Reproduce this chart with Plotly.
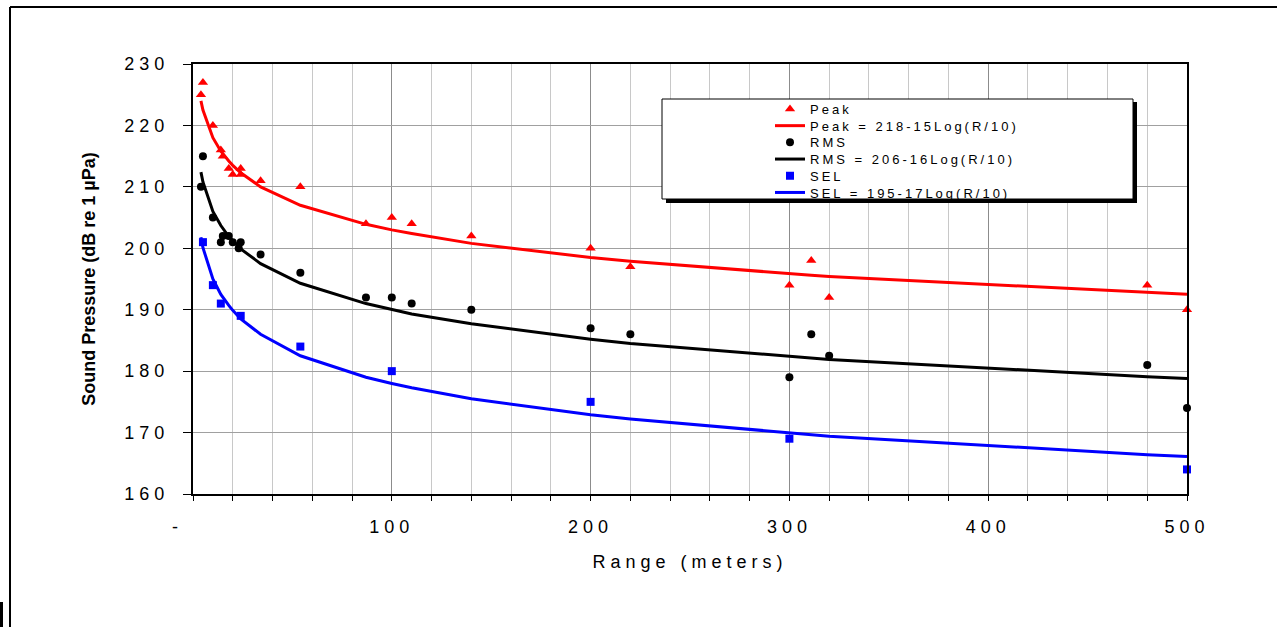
import plotly.graph_objects as go

# ---- data ----
peak_x = [4, 5, 10, 14, 15, 18, 20, 24, 24, 34, 54, 87, 100, 110, 140, 200, 220, 300, 311, 320, 480, 500]
peak_y = [225, 227, 220, 216, 215, 213, 212, 213, 212, 211, 210, 204, 205, 204, 202, 200, 197, 194, 198, 192, 194, 190]

rms_x = [4, 5, 10, 14, 15, 18, 20, 24, 23, 34, 54, 87, 100, 110, 140, 200, 220, 300, 311, 320, 480, 500]
rms_y = [210, 215, 205, 201, 202, 202, 201, 201, 200, 199, 196, 192, 192, 191, 190, 187, 186, 179, 186, 182.5, 181, 174]

sel_x = [5, 10, 14, 24, 54, 100, 200, 300, 500]
sel_y = [201, 194, 191, 189, 184, 180, 175, 169, 164]

fit_x = [4, 5, 10, 14, 18, 20, 24, 34, 54, 87, 100, 110, 140, 200, 220, 300, 311, 320, 480, 500]
peak_fit = [224.0, 222.5, 218.0, 215.8, 214.2, 213.5, 212.3, 210.0, 207.0, 203.9, 203.0, 202.4, 200.8,
            198.5, 197.9, 195.8, 195.6, 195.4, 192.8, 192.5]
rms_fit = [212.4, 210.8, 206.0, 203.7, 201.9, 201.2, 199.9, 197.5, 194.3, 191.0, 190.0, 189.3, 187.7,
           185.2, 184.5, 182.4, 182.1, 181.9, 179.1, 178.8]
sel_fit = [201.8, 200.1, 195.0, 192.5, 190.7, 189.9, 188.5, 186.0, 182.5, 179.0, 178.0, 177.3, 175.5,
           172.9, 172.2, 169.9, 169.6, 169.4, 166.4, 166.1]

x_tickvals = [0, 100, 200, 300, 400, 500]
x_ticktext = ["", "100", "200", "300", "400", "500"]
y_tickvals = [160, 170, 180, 190, 200, 210, 220, 230]

names = ["Peak", "Peak = 218-15Log(R/10)", "RMS", "RMS = 206-16Log(R/10)", "SEL", "SEL = 195-17Log(R/10)"]

FONT = "Arial, Liberation Sans, sans-serif"

fig = go.Figure()
fig.add_trace(go.Scatter(x=peak_x, y=peak_y, mode="markers", name=names[0], cliponaxis=False,
                         marker=dict(symbol="triangle-up", size=9, color="#ff0000")))
fig.add_trace(go.Scatter(x=fit_x, y=peak_fit, mode="lines", name=names[1],
                         line=dict(color="#ff0000", width=3)))
fig.add_trace(go.Scatter(x=rms_x, y=rms_y, mode="markers", name=names[2], cliponaxis=False,
                         marker=dict(symbol="circle", size=8, color="#000000")))
fig.add_trace(go.Scatter(x=fit_x, y=rms_fit, mode="lines", name=names[3],
                         line=dict(color="#000000", width=3)))
fig.add_trace(go.Scatter(x=sel_x, y=sel_y, mode="markers", name=names[4], cliponaxis=False,
                         marker=dict(symbol="square", size=8, color="#0000ff")))
fig.add_trace(go.Scatter(x=fit_x, y=sel_fit, mode="lines", name=names[5],
                         line=dict(color="#0000ff", width=3)))

L, R, T, B = 193, 90, 64, 133
W, H = 1277, 627
PW, PH = W - L - R, H - T - B


def px(xp):
    return (xp - L) / PW


def py(yp):
    return (H - B - yp) / PH


shapes = [
    # legend shadow + box
    dict(type="rect", xref="paper", yref="paper", x0=px(666), x1=px(1137), y0=py(203), y1=py(102),
         fillcolor="black", line=dict(width=0), layer="above"),
    dict(type="rect", xref="paper", yref="paper", x0=px(662), x1=px(1133), y0=py(199), y1=py(99),
         fillcolor="white", line=dict(color="black", width=1), layer="above"),
    # page frame
    dict(type="line", xref="paper", yref="paper", x0=px(10), x1=px(1277), y0=py(7), y1=py(7),
         line=dict(color="black", width=2)),
    dict(type="line", xref="paper", yref="paper", x0=px(10), x1=px(10), y0=py(7), y1=py(627),
         line=dict(color="black", width=2)),
    dict(type="line", xref="paper", yref="paper", x0=px(1.5), x1=px(1.5), y0=py(602), y1=py(627),
         line=dict(color="black", width=3)),
]

fig.update_layout(
    width=W, height=H,
    margin=dict(l=L, r=R, t=T, b=B, autoexpand=False),
    paper_bgcolor="white", plot_bgcolor="white",
    font=dict(family=FONT, color="black"),
    showlegend=True,
    legend=dict(x=px(770), y=py(94), xanchor="left", yanchor="top",
                bgcolor="rgba(0,0,0,0)", borderwidth=0,
                font=dict(family=FONT, size=13, color="black"), tracegroupgap=0),
    shapes=shapes,
    annotations=[dict(text="-", x=px(175), y=py(527), xref="paper", yref="paper", showarrow=False,
                      xanchor="center", yanchor="middle",
                      font=dict(family=FONT, size=18, color="black"))],
    xaxis=dict(range=[0, 500], tickmode="array", tickvals=x_tickvals, ticktext=x_ticktext,
               showline=True, linewidth=2, linecolor="black", mirror=True,
               ticks="outside", ticklen=5, tickwidth=1, tickcolor="black",
               showgrid=True, gridcolor="#8c8c8c", gridwidth=1, zeroline=False,
               minor=dict(dtick=20, tick0=0, showgrid=True, gridcolor="#c8c8c8", gridwidth=1,
                          ticks="outside", ticklen=5, tickwidth=1, tickcolor="black"),
               tickfont=dict(family=FONT, size=18, color="black"), ticklabelstandoff=10,
               title=dict(text="Range (meters)", font=dict(family=FONT, size=18, color="black"),
                          standoff=20)),
    yaxis=dict(range=[160, 230], tickmode="array", tickvals=y_tickvals,
               showline=True, linewidth=2, linecolor="black", mirror=True,
               ticks="outside", ticklen=8, tickwidth=1, tickcolor="black",
               showgrid=True, gridcolor="#a0a0a0", gridwidth=1, zeroline=False,
               tickfont=dict(family=FONT, size=18, color="black"), ticklabelstandoff=10,
               title=dict(text="Sound Pressure (dB re 1 µPa)",
                          font=dict(family=FONT, size=18, color="black", weight="bold"),
                          standoff=39)),
)

post = """
var st=document.createElement('style');
st.textContent='body{margin:0;padding:0}.xtick text,.ytick text,.xtitle{letter-spacing:5px}.legendtext{letter-spacing:3px}.legend .scrollbox{clip-path:none}';
document.head.appendChild(st);
function fixLegend(){
  var gd=document.getElementById('{plot_id}');
  if(!gd) return;
  var tr=gd.querySelectorAll('.legend .traces');
  if(tr.length<2) return;
  var pos=[];
  tr.forEach(function(t){
    var m=/translate\\(\\s*([-\\d.e]+)[ ,]+([-\\d.e]+)\\s*\\)/.exec(t.getAttribute('transform')||'');
    pos.push(m?[parseFloat(m[1]),parseFloat(m[2])]:null);
  });
  if(!pos[0]||!pos[1]) return;
  var y0=pos[0][1], step=pos[1][1]-y0;
  if(Math.abs(step-16.7)<0.01) return;
  tr.forEach(function(t,i){
    if(!pos[i]) return;
    var ny=y0+(pos[i][1]-y0)*16.7/step;
    t.setAttribute('transform','translate('+pos[i][0]+','+ny+')');
  });
}
fixLegend();
var gdd=document.getElementById('{plot_id}');
if(gdd && gdd.on){gdd.on('plotly_afterplot',fixLegend);}
setTimeout(fixLegend,50);
"""

fig.write_html("out.html", post_script=post, config={"displayModeBar": False})
